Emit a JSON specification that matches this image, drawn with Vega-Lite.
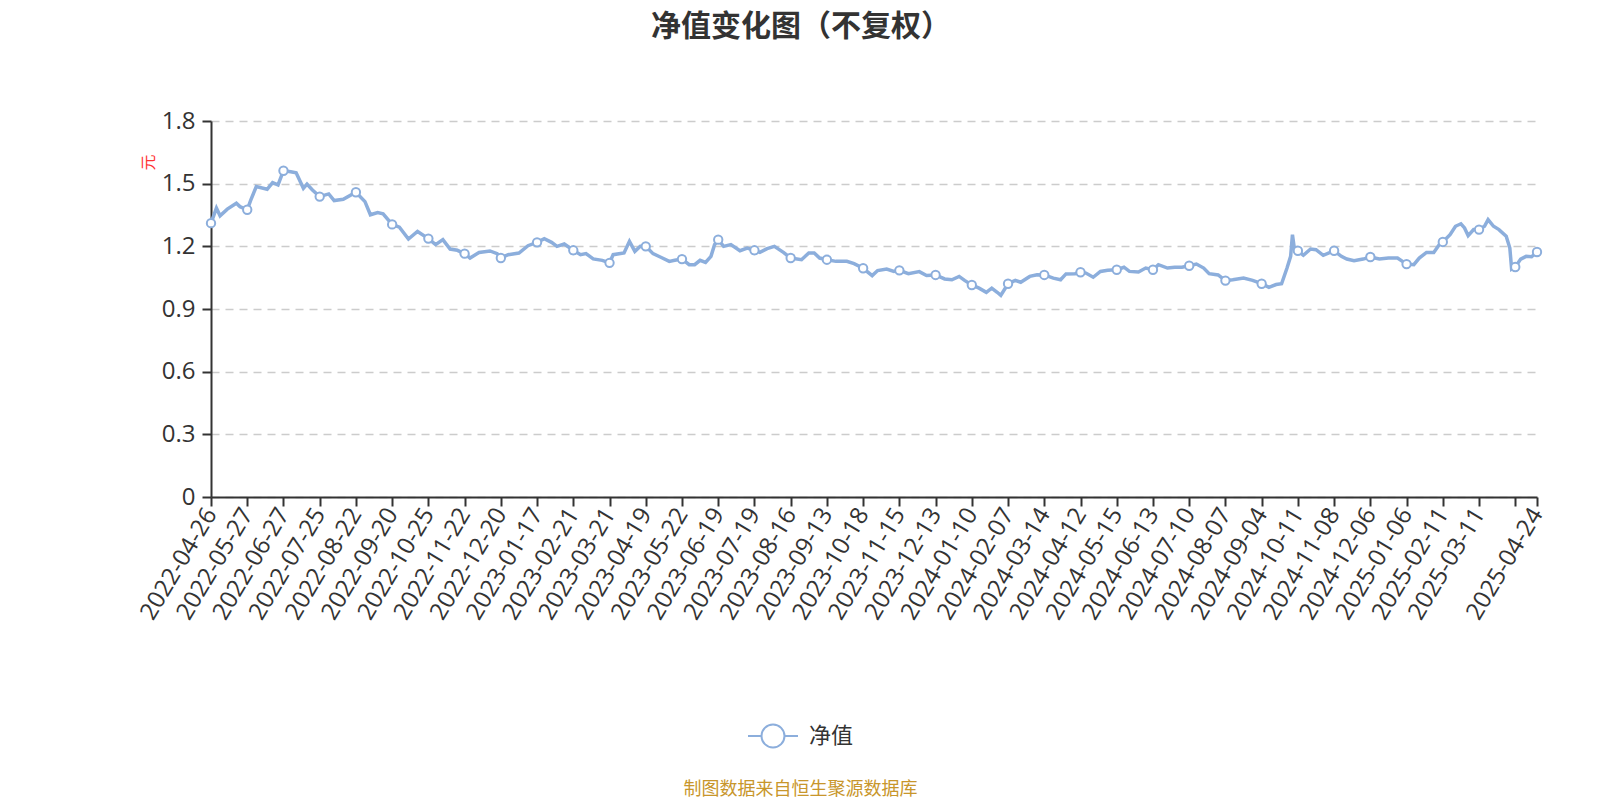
{
  "$schema": "https://vega.github.io/schema/vega-lite/v6.json",
  "width": 1326,
  "height": 376,
  "autosize": {"type": "none"},
  "padding": {"left": 211, "top": 121, "right": 63, "bottom": 303},
  "background": "white",
  "config": {"view": {"stroke": null}},
  "title": {"text": "净值变化图（不复权）", "font": "Noto Sans CJK SC", "fontSize": 30, "fontWeight": "bold", "color": "#333333", "anchor": "middle", "dx": -73, "offset": 67},
  "data": {"values": [
    {"i":0,"v":1.311},{"i":3,"v":1.383},{"i":5,"v":1.346},{"i":9,"v":1.378},{"i":14,"v":1.406},{"i":16,"v":1.39},{"i":20,"v":1.375},{"i":22,"v":1.422},{"i":25,"v":1.486},{"i":31,"v":1.473},{"i":34,"v":1.505},{"i":37,"v":1.494},{"i":40,"v":1.562},{"i":44,"v":1.557},{"i":47,"v":1.552},{"i":51,"v":1.478},{"i":53,"v":1.498},{"i":56,"v":1.47},{"i":60,"v":1.438},{"i":65,"v":1.451},{"i":68,"v":1.419},{"i":73,"v":1.425},{"i":80,"v":1.459},{"i":85,"v":1.414},{"i":88,"v":1.351},{"i":92,"v":1.362},{"i":95,"v":1.356},{"i":100,"v":1.305},{"i":104,"v":1.292},{"i":109,"v":1.235},{"i":114,"v":1.271},{"i":120,"v":1.237},{"i":124,"v":1.208},{"i":128,"v":1.232},{"i":132,"v":1.187},{"i":136,"v":1.181},{"i":140,"v":1.165},{"i":143,"v":1.144},{"i":148,"v":1.171},{"i":154,"v":1.178},{"i":158,"v":1.165},{"i":160,"v":1.144},{"i":164,"v":1.16},{"i":170,"v":1.168},{"i":175,"v":1.203},{"i":180,"v":1.219},{"i":184,"v":1.237},{"i":188,"v":1.219},{"i":191,"v":1.2},{"i":195,"v":1.211},{"i":200,"v":1.181},{"i":204,"v":1.16},{"i":207,"v":1.165},{"i":211,"v":1.14},{"i":216,"v":1.133},{"i":220,"v":1.121},{"i":222,"v":1.16},{"i":228,"v":1.168},{"i":231,"v":1.224},{"i":234,"v":1.176},{"i":237,"v":1.2},{"i":240,"v":1.2},{"i":244,"v":1.165},{"i":248,"v":1.149},{"i":253,"v":1.128},{"i":256,"v":1.133},{"i":260,"v":1.139},{"i":264,"v":1.112},{"i":267,"v":1.112},{"i":270,"v":1.133},{"i":273,"v":1.123},{"i":276,"v":1.152},{"i":278,"v":1.208},{"i":280,"v":1.232},{"i":283,"v":1.2},{"i":287,"v":1.208},{"i":292,"v":1.179},{"i":296,"v":1.192},{"i":300,"v":1.181},{"i":303,"v":1.171},{"i":307,"v":1.189},{"i":311,"v":1.2},{"i":316,"v":1.171},{"i":320,"v":1.144},{"i":326,"v":1.136},{"i":330,"v":1.168},{"i":333,"v":1.168},{"i":336,"v":1.144},{"i":340,"v":1.136},{"i":345,"v":1.128},{"i":351,"v":1.128},{"i":355,"v":1.117},{"i":360,"v":1.095},{"i":365,"v":1.06},{"i":368,"v":1.084},{"i":373,"v":1.091},{"i":377,"v":1.08},{"i":380,"v":1.085},{"i":385,"v":1.069},{"i":391,"v":1.079},{"i":395,"v":1.06},{"i":400,"v":1.063},{"i":405,"v":1.044},{"i":409,"v":1.04},{"i":413,"v":1.056},{"i":416,"v":1.037},{"i":420,"v":1.015},{"i":424,"v":1.0},{"i":428,"v":0.98},{"i":431,"v":1.0},{"i":434,"v":0.98},{"i":436,"v":0.965},{"i":440,"v":1.021},{"i":444,"v":1.037},{"i":447,"v":1.028},{"i":452,"v":1.056},{"i":456,"v":1.064},{"i":460,"v":1.063},{"i":465,"v":1.048},{"i":469,"v":1.04},{"i":472,"v":1.068},{"i":477,"v":1.069},{"i":480,"v":1.076},{"i":483,"v":1.072},{"i":487,"v":1.052},{"i":491,"v":1.08},{"i":495,"v":1.085},{"i":500,"v":1.088},{"i":504,"v":1.1},{"i":507,"v":1.08},{"i":512,"v":1.077},{"i":516,"v":1.096},{"i":520,"v":1.088},{"i":523,"v":1.112},{"i":528,"v":1.096},{"i":532,"v":1.1},{"i":536,"v":1.1},{"i":540,"v":1.107},{"i":544,"v":1.115},{"i":548,"v":1.096},{"i":551,"v":1.069},{"i":556,"v":1.063},{"i":560,"v":1.036},{"i":564,"v":1.04},{"i":570,"v":1.048},{"i":575,"v":1.037},{"i":580,"v":1.021},{"i":584,"v":1.004},{"i":588,"v":1.017},{"i":591,"v":1.021},{"i":594,"v":1.096},{"i":596,"v":1.152},{"i":597,"v":1.256},{"i":598,"v":1.192},{"i":600,"v":1.179},{"i":603,"v":1.157},{"i":607,"v":1.187},{"i":610,"v":1.184},{"i":614,"v":1.157},{"i":620,"v":1.179},{"i":624,"v":1.152},{"i":627,"v":1.139},{"i":631,"v":1.131},{"i":636,"v":1.139},{"i":640,"v":1.149},{"i":645,"v":1.139},{"i":650,"v":1.144},{"i":655,"v":1.144},{"i":660,"v":1.115},{"i":664,"v":1.112},{"i":667,"v":1.144},{"i":671,"v":1.171},{"i":675,"v":1.171},{"i":678,"v":1.208},{"i":680,"v":1.221},{"i":684,"v":1.256},{"i":687,"v":1.296},{"i":690,"v":1.308},{"i":692,"v":1.288},{"i":694,"v":1.251},{"i":697,"v":1.28},{"i":700,"v":1.28},{"i":703,"v":1.296},{"i":705,"v":1.328},{"i":708,"v":1.296},{"i":711,"v":1.28},{"i":715,"v":1.248},{"i":717,"v":1.192},{"i":718,"v":1.091},{"i":720,"v":1.101},{"i":723,"v":1.139},{"i":726,"v":1.152},{"i":729,"v":1.15},{"i":732,"v":1.173}
  ]},
  "encoding": {
    "x": {
      "field": "i", "type": "quantitative",
      "scale": {"domain": [0, 732], "nice": false, "zero": false},
      "axis": {
        "values": [0,20,40,60,80,100,120,140,160,180,200,220,240,260,280,300,320,340,360,380,400,420,440,460,480,500,520,540,560,580,600,620,640,660,680,700,720,732],
        "labelExpr": "datum.value == 732 ? '2025-04-24' : ['2022-04-26','2022-05-27','2022-06-27','2022-07-25','2022-08-22','2022-09-20','2022-10-25','2022-11-22','2022-12-20','2023-01-17','2023-02-21','2023-03-21','2023-04-19','2023-05-22','2023-06-19','2023-07-19','2023-08-16','2023-09-13','2023-10-18','2023-11-15','2023-12-13','2024-01-10','2024-02-07','2024-03-14','2024-04-12','2024-05-15','2024-06-13','2024-07-10','2024-08-07','2024-09-04','2024-10-11','2024-11-08','2024-12-06','2025-01-06','2025-02-11','2025-03-11',''][round(datum.value / 20)]",
        "labelAngle": -59, "labelFontSize": 24, "labelFont": "Open Sans", "labelColor": "#333333",
        "labelOverlap": false, "labelPadding": 4, "labelFlush": false, "labelBound": false,
        "tickSize": 9, "tickColor": "#333333", "tickWidth": 2,
        "domainColor": "#333333", "domainWidth": 2, "grid": false,
        "title": "制图数据来自恒生聚源数据库", "titleFont": "Noto Sans CJK SC", "titleFontSize": 18, "titleFontWeight": "normal",
        "titleColor": "#c8962b", "titleX": 589, "titleY": 292, "titleAlign": "center", "titleBaseline": "middle", "titleAngle": 0
      }
    },
    "y": {
      "field": "v", "type": "quantitative",
      "scale": {"domain": [0, 1.8], "nice": false},
      "axis": {
        "values": [0, 0.3, 0.6, 0.9, 1.2, 1.5, 1.8], "format": ".1~f",
        "labelFontSize": 24, "labelFont": "Open Sans", "labelColor": "#333333", "labelPadding": 7,
        "tickSize": 9, "tickColor": "#333333", "tickWidth": 2,
        "domainColor": "#333333", "domainWidth": 2,
        "grid": true, "gridDash": [8, 6], "gridColor": "#cccccc", "gridWidth": 1.5,
        "title": "元", "titleColor": "#ff3333", "titleFont": "Noto Sans CJK SC", "titleFontSize": 16, "titleFontWeight": "normal",
        "titleX": -63, "titleY": 41, "titleAngle": 270, "titleAlign": "center", "titleBaseline": "middle"
      }
    }
  },
  "layer": [
    {"mark": {"type": "line", "color": "#8caedc", "strokeWidth": 3.5}},
    {
      "transform": [{"filter": "datum.i % 20 == 0 || datum.i == 732"}],
      "mark": {"type": "point", "shape": "circle", "filled": true, "fill": "white", "strokeWidth": 2, "size": 70, "opacity": 1},
      "encoding": {
        "stroke": {
          "datum": "净值", "type": "nominal",
          "scale": {"range": ["#8caedc"]},
          "legend": {
            "orient": "none", "legendX": 536, "legendY": 589, "title": null,
            "symbolType": "M-1,0H-0.46M0.46,0H1M-0.46,0A0.46,0.46 0 1,0 0.46,0A0.46,0.46 0 1,0 -0.46,0",
            "symbolSize": 2500, "symbolStrokeWidth": 2, "symbolFillColor": "white", "symbolOpacity": 1,
            "labelFontSize": 22, "labelFont": "Noto Sans CJK SC", "labelColor": "#333333", "labelOffset": 10,
            "encode": {"symbols": {"update": {"fill": {"value": "white"}, "stroke": {"value": "#8caedc"}, "opacity": {"value": 1}}}}
          }
        }
      }
    }
  ]
}
